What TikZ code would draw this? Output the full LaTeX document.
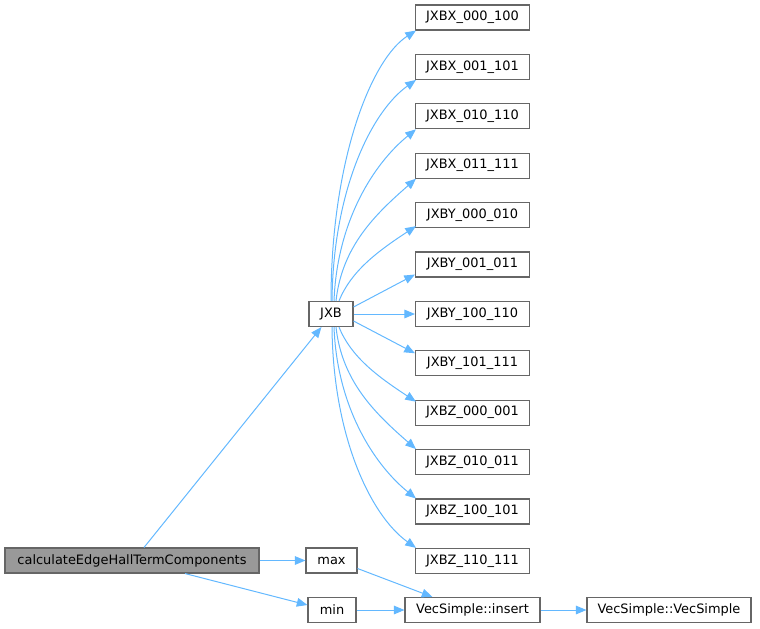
\documentclass[tikz,border=0pt]{standalone}
\usepackage{fontspec}
\setmainfont{DejaVu Sans}
\usetikzlibrary{arrows.meta,calc}
\definecolor{edgec}{HTML}{63B8FF}
\definecolor{bordc}{HTML}{666666}
\definecolor{rootc}{HTML}{999999}
\begin{document}
\begin{tikzpicture}[x=0.75pt,y=-0.75pt,
  box/.style={draw=bordc,line width=0.8pt,fill=white,minimum height=18.75pt,inner sep=0pt,font=\fontsize{9.7}{12}\selectfont,text=black},
  jx/.style={box,minimum width=85.5pt},
  call/.style={draw=edgec,line width=0.75pt,-{Triangle[length=8pt,width=6.5pt]}}]
\useasboundingbox (0,0) rectangle (760,628);
\node[box,fill=rootc,minimum width=190.5pt] (root) at (132,560.5) {calculateEdgeHallTermComponents};
\node[box,minimum width=33pt] (jxb) at (331,314) {JXB};
\node[box,minimum width=38.25pt] (max) at (331.5,560.5) {max};
\node[box,minimum width=36pt] (min) at (332,610) {min};
\node[box,minimum width=101.25pt] (ins) at (472.5,610) {VecSimple::insert};
\node[box,minimum width=123pt] (vs) at (669,610) {VecSimple::VecSimple};
\node[jx] (t0) at (472.5,17.5) {JXBX\_000\_100};
\node[jx] (t1) at (472.5,66.9) {JXBX\_001\_101};
\node[jx] (t2) at (472.5,116.3) {JXBX\_010\_110};
\node[jx] (t3) at (472.5,165.7) {JXBX\_011\_111};
\node[jx] (t4) at (472.5,215.1) {JXBY\_000\_010};
\node[jx] (t5) at (472.5,264.5) {JXBY\_001\_011};
\node[jx] (t6) at (472.5,314) {JXBY\_100\_110};
\node[jx] (t7) at (472.5,363.3) {JXBY\_101\_111};
\node[jx] (t8) at (472.5,412.7) {JXBZ\_000\_001};
\node[jx] (t9) at (472.5,462.1) {JXBZ\_010\_011};
\node[jx] (t10) at (472.5,511.5) {JXBZ\_100\_101};
\node[jx] (t11) at (472.5,560.9) {JXBZ\_110\_111};
% root edges
\draw[call] ($(root.north)+(12,0)$) -- ($(jxb.south west)+(13,0)$);
\draw[call] (root.east) -- (max.west);
\draw[call] ($(root.south)+(53,0)$) -- ($(min.west)+(0,-5)$);
\draw[call] ($(max.east)+(0,8)$) -- ($(ins.north west)+(28,0)$);
\draw[call] (min.east) -- (ins.west);
\draw[call] (ins.east) -- (vs.west);
% JXB fan upward
\draw[call] ($(jxb.north)+(0,0)$) .. controls +(0,-140) and +(-45,29) .. ($(t0.south west)+(1,0)$);
\draw[call] ($(jxb.north)+(1,0)$) .. controls +(1,-110) and +(-45,32) .. ($(t1.south west)+(1,0)$);
\draw[call] ($(jxb.north)+(3,0)$) .. controls +(3,-80) and +(-42,34) .. ($(t2.south west)+(1,0)$);
\draw[call] ($(jxb.north)+(5,0)$) .. controls +(6,-55) and +(-40,35) .. ($(t3.south west)+(1,0)$);
\draw[call] ($(jxb.north)+(8,0)$) .. controls +(12,-30) and +(-38,25) .. ($(t4.south west)+(1,-2)$);
\draw[call] ($(jxb.east)+(0,-7)$) -- ($(t5.south west)+(0,-3)$);
\draw[call] (jxb.east) -- (t6.west);
\draw[call] ($(jxb.east)+(0,7)$) -- ($(t7.north west)+(0,3)$);
% JXB fan downward
\draw[call] ($(jxb.south)+(8,0)$) .. controls +(12,30) and +(-38,-25) .. ($(t8.north west)+(1,2)$);
\draw[call] ($(jxb.south)+(5,0)$) .. controls +(6,55) and +(-40,-35) .. ($(t9.north west)+(1,0)$);
\draw[call] ($(jxb.south)+(3,0)$) .. controls +(3,80) and +(-42,-34) .. ($(t10.north west)+(1,0)$);
\draw[call] ($(jxb.south)+(1,0)$) .. controls +(1,110) and +(-45,-32) .. ($(t11.north west)+(1,0)$);
\end{tikzpicture}
\end{document}
